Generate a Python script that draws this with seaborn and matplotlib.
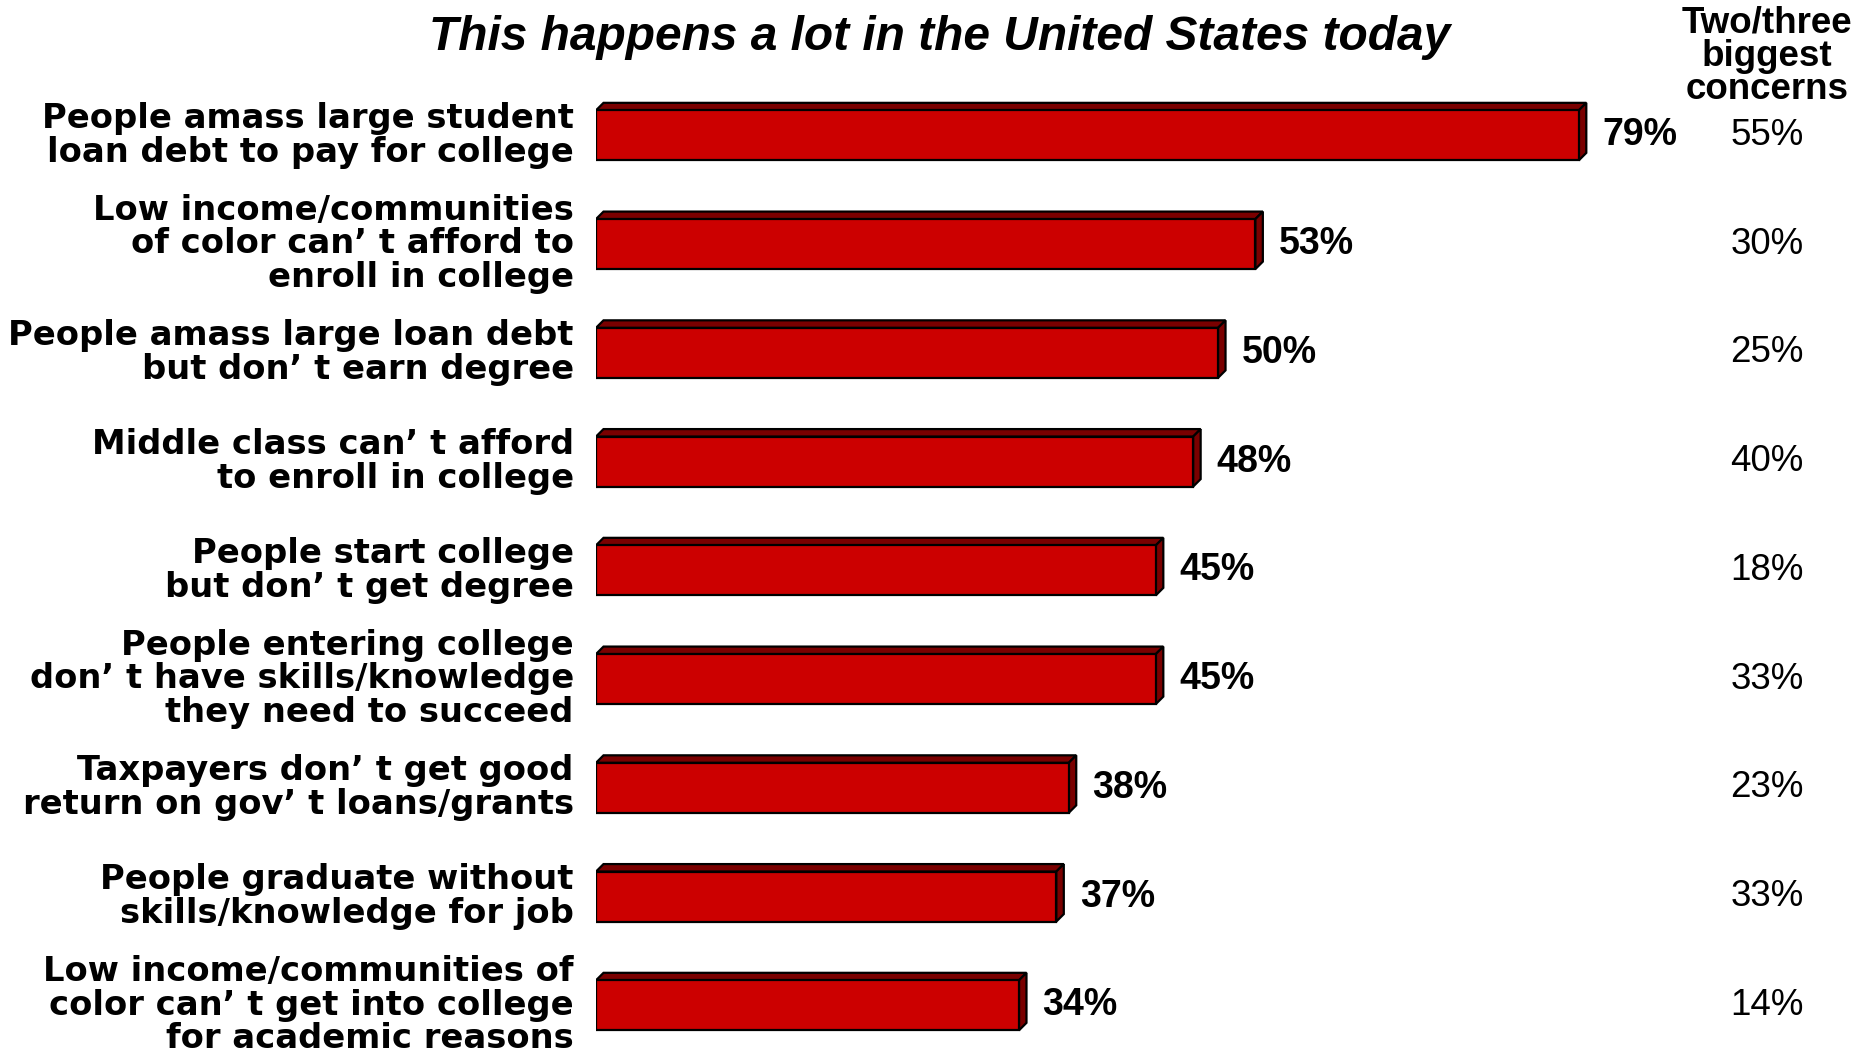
import matplotlib
matplotlib.use("Agg")
import matplotlib.pyplot as plt
from matplotlib import font_manager
from matplotlib.patches import Polygon
import matplotlib.transforms as mtransforms
import seaborn as sns
import pandas as pd

categories = [
    "People amass large student\nloan debt to pay for college",
    "Low income/communities\nof color can\u2019 t afford to\nenroll in college",
    "People amass large loan debt\nbut don\u2019 t earn degree",
    "Middle class can\u2019 t afford\nto enroll in college",
    "People start college\nbut don\u2019 t get degree",
    "People entering college\ndon\u2019 t have skills/knowledge\nthey need to succeed",
    "Taxpayers don\u2019 t get good\nreturn on gov\u2019 t loans/grants",
    "People graduate without\nskills/knowledge for job",
    "Low income/communities of\ncolor can\u2019 t get into college\nfor academic reasons",
]
happens_pct = [79, 53, 50, 48, 45, 45, 38, 37, 34]
concern_pct = [55, 30, 25, 40, 18, 33, 23, 33, 14]
title_text = "This happens a lot in the United States today"
header_text = "Two/three\nbiggest\nconcerns"

df = pd.DataFrame({"category": categories, "pct": happens_pct})

sns.set_theme(style="white")
plt.rcParams["font.family"] = ["Liberation Sans", "DejaVu Sans"]

names = {f.name for f in font_manager.fontManager.ttflist}
narrow = "Liberation Sans Narrow" in names

W, H = 1875, 1053
fig = plt.figure(figsize=(W / 100, H / 100), dpi=100)
ax = fig.add_axes([596 / W, -0.0012, 0.6635, 0.9243])

front = "#CC0000"
dark = "#7A0000"
sns.barplot(data=df, x="pct", y="category", orient="h", color=front,
            saturation=1, edgecolor="black", linewidth=1.6, width=0.46, ax=ax)

ax.set_xlim(0, 100)
ax.set_ylim(8.45, -0.5)
for s in ax.spines.values():
    s.set_visible(False)
ax.set_xticks([])
ax.set_xlabel("")
ax.set_ylabel("")
ax.tick_params(axis="y", length=0, pad=16)
shift = mtransforms.ScaledTranslation(0, 4 / 100, fig.dpi_scale_trans)
for tick in ax.yaxis.get_major_ticks():
    lab = tick.label1
    lab.set_fontfamily("DejaVu Sans")
    lab.set_fontweight("bold")
    lab.set_fontsize(24.3)
    lab.set_linespacing(1.03)
    lab.set_color("black")
    lab.set_transform(lab.get_transform() + shift)

# 3D depth faces, derived from the bar patches
fig.canvas.draw()
inv = ax.transData.inverted()
p0 = ax.transData.transform((0, 0))
depth_px = 7.5
dx = inv.transform((p0[0] + depth_px, p0[1]))[0] - inv.transform(p0)[0]
dy = inv.transform((p0[0], p0[1] + depth_px))[1] - inv.transform(p0)[1]
for p in list(ax.patches):
    x0, y0 = p.get_x(), p.get_y()
    w, h = p.get_width(), p.get_height()
    ytop = y0  # inverted axis: y0 is the visual top
    ybot = y0 + h
    top = Polygon([(x0, ytop), (x0 + w, ytop), (x0 + w + dx, ytop + dy), (x0 + dx, ytop + dy)],
                  closed=True, facecolor=dark, edgecolor="black", linewidth=1.6, zorder=p.get_zorder() - 0.1)
    side = Polygon([(x0 + w, ytop), (x0 + w + dx, ytop + dy), (x0 + w + dx, ybot + dy), (x0 + w, ybot)],
                   closed=True, facecolor=dark, edgecolor="black", linewidth=1.6, zorder=p.get_zorder() - 0.1)
    ax.add_patch(top)
    ax.add_patch(side)

for i, v in enumerate(happens_pct):
    ax.annotate(f"{v}%", xy=(v, i), xytext=(17, 0), textcoords="offset points",
                ha="left", va="center", fontsize=27, fontweight="bold",
                family="Liberation Sans", color="black")

blend = mtransforms.blended_transform_factory(fig.transFigure, ax.transData)
for i, v in enumerate(concern_pct):
    ax.text(1767 / W, i, f"{v}%", transform=blend, ha="center", va="center",
            fontsize=26.5, family="Liberation Sans", color="black")

fig.text(1767 / W, 1 - 56 / H, header_text, ha="center", va="center",
         fontsize=26.5, fontweight="bold", family="Liberation Sans",
         linespacing=0.93, color="black")

if narrow:
    fig.text(940 / W, 1 - 50 / H, title_text, ha="center", va="baseline",
             fontsize=37, fontweight="bold", fontstyle="italic",
             family="Liberation Sans Narrow", color="black")
else:
    fig.text(940 / W, 1 - 50 / H, title_text, ha="center", va="baseline",
             fontsize=34.5, fontweight="bold", fontstyle="italic",
             family="Liberation Sans", color="black")

fig.savefig("out.png", dpi=100, facecolor="white")
